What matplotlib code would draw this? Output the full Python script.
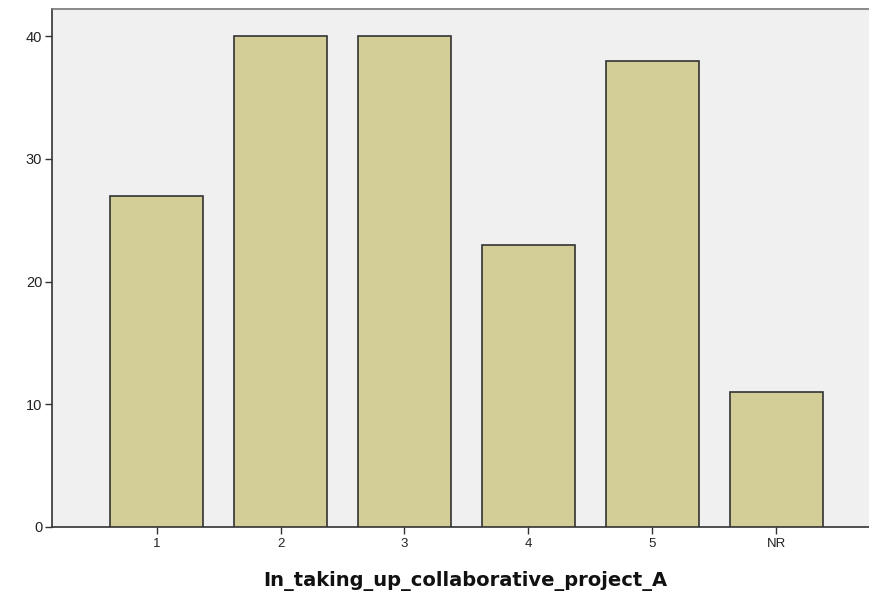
import matplotlib
matplotlib.use("Agg")
import matplotlib.pyplot as plt

categories = ["1", "2", "3", "4", "5", "NR"]
counts = [27, 40, 40, 23, 38, 11]
x_label = "In_taking_up_collaborative_project_A"
y_ticks = [0, 10, 20, 30, 40]

plt.rcParams['font.family'] = ['Liberation Sans', 'DejaVu Sans']

fig = plt.figure(figsize=(8.69, 5.96), dpi=100)
ax = fig.add_axes([52/869, 69/596, 1 - 52/869 + 0.01, (527-9)/596])
ax.set_facecolor('#F0F0F0')

pos = list(range(len(categories)))
ax.bar(pos, counts, width=0.75, color='#D3CE97', edgecolor='#333333', linewidth=1.2, zorder=3)

ax.set_xlim(-0.845, 5.82)
ax.set_ylim(0, 42.2)
ax.set_xticks(pos)
ax.set_xticklabels(categories, fontsize=9.5, color='#222222')
ax.set_yticks(y_ticks)
ax.set_yticklabels([str(t) for t in y_ticks], fontsize=10.5, color='#222222')
ax.tick_params(axis='both', direction='out', length=5, width=1, color='#333333')
ax.tick_params(axis='x', pad=3)
ax.tick_params(axis='y', pad=2)

for s in ['left', 'bottom', 'top']:
    ax.spines[s].set_color('#333333')
    ax.spines[s].set_linewidth(1.2)
ax.spines['top'].set_color('#777777')
ax.spines['right'].set_visible(False)

ax.set_xlabel(x_label, fontsize=14, fontweight='bold', labelpad=15, color='#111111',
              family=['DejaVu Sans'])

fig.savefig("out.png", dpi=100, facecolor='white')
